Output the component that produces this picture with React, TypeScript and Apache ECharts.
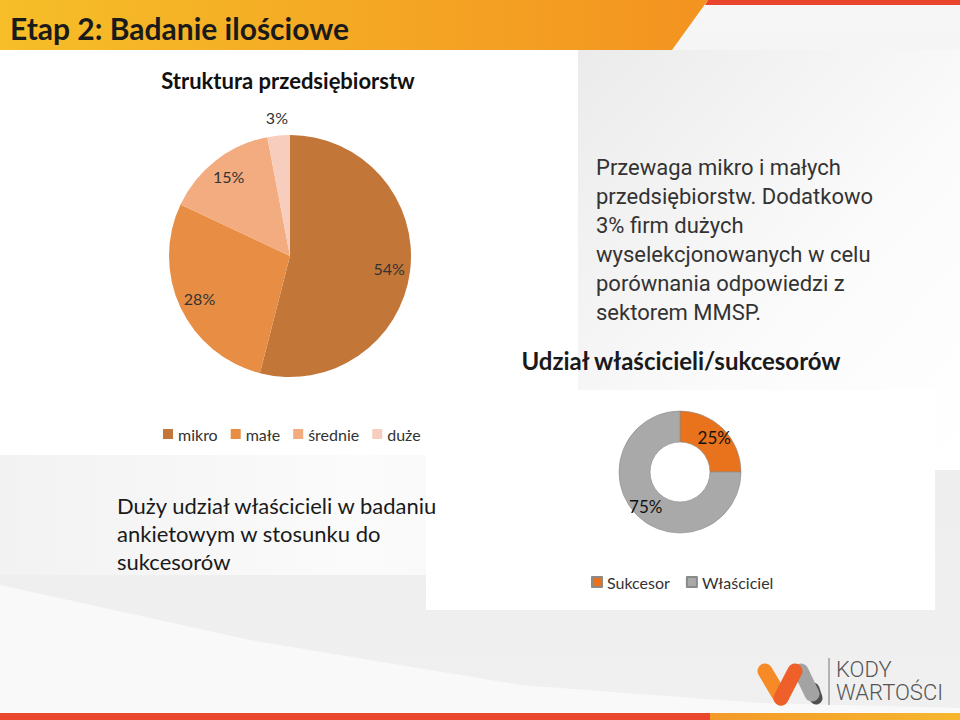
import React, { useEffect, useRef } from "react";
import * as echarts from "echarts";

const pieCategories = ["mikro", "małe", "średnie", "duże"];
const pieValues = [54, 28, 15, 3];
const pieColors = ["#C27638", "#E88D44", "#F3AC7F", "#F7CDBD"];

const donutCategories = ["Sukcesor", "Właściciel"];
const donutValues = [25, 75];
const donutColors = ["#E8731C", "#A9A9A9"];

const titleText = "Etap 2: Badanie ilościowe";
const pieTitle = "Struktura przedsiębiorstw";
const donutTitle = "Udział właścicieli/sukcesorów";
const rightText = [
  "Przewaga mikro i małych",
  "przedsiębiorstw. Dodatkowo",
  "3% firm dużych",
  "wyselekcjonowanych w celu",
  "porównania odpowiedzi z",
  "sektorem MMSP.",
];
const bottomText = [
  "Duży udział właścicieli w badaniu",
  "ankietowym w stosunku do",
  "sukcesorów",
];
const logoText = ["KODY", "WARTOŚCI"];

const CAL = "Lato, 'Open Sans', sans-serif";

export default function App() {
  const ref = useRef<HTMLDivElement>(null);
  useEffect(() => {
    document.body.style.margin = "0";
    const chart = echarts.init(ref.current!, null, { renderer: "svg" });
    const pieData = pieCategories.map((n, i) => ({
      name: n,
      value: pieValues[i],
      itemStyle: { color: pieColors[i] },
    }));
    const donutData = donutCategories.map((n, i) => ({
      name: n,
      value: donutValues[i],
      itemStyle: { color: donutColors[i] },
    }));
    const pct = (p: any) => Math.round(p.percent) + "%";

    const graphics: any[] = [
      // base background
      {
        type: "rect", z: -10, shape: { x: 0, y: 0, width: 960, height: 720 },
        style: {
          fill: new echarts.graphic.LinearGradient(0, 0, 0, 1, [
            { offset: 0, color: "#f6f6f6" },
            { offset: 0.65, color: "#eeeeee" },
            { offset: 1, color: "#f0f0f0" },
          ]),
        },
      },
      // lighter lower swoosh
      {
        type: "polygon", z: -9, smooth: 0.35,
        shape: { points: [[0, 585], [250, 640], [520, 685], [760, 703], [960, 708], [960, 720], [0, 720]] },
        style: { fill: "#f9f9f9" },
      },
      // right top gradient
      {
        type: "rect", z: -9, shape: { x: 578, y: 50, width: 382, height: 420 },
        style: {
          fill: new echarts.graphic.LinearGradient(0, 0, 1, 1, [
            { offset: 0, color: "#ebebeb" },
            { offset: 0.6, color: "#fbfbfb" },
            { offset: 1, color: "#ffffff" },
          ]),
        },
      },
      // soft fade under the left panel
      {
        type: "rect", z: -9, shape: { x: 0, y: 455, width: 600, height: 120 },
        style: {
          fill: new echarts.graphic.LinearGradient(0, 0, 1, 0, [
            { offset: 0, color: "#f2f2f2" },
            { offset: 0.6, color: "#fbfbfb" },
            { offset: 1, color: "#f5f5f5" },
          ]),
        },
      },
      // left white panel
      {
        type: "rect", z: -8, shape: { x: 0, y: 50, width: 578, height: 405 },
        style: { fill: "#ffffff" },
      },
      // donut white panel
      {
        type: "rect", z: -8, shape: { x: 426, y: 390, width: 509, height: 220 },
        style: { fill: "#ffffff" },
      },
      // header orange
      {
        type: "polygon", z: -5,
        shape: { points: [[0, 0], [708, 0], [672, 50], [0, 50]] },
        style: {
          fill: new echarts.graphic.LinearGradient(0, 0, 1, 0, [
            { offset: 0, color: "#F6BE28" },
            { offset: 1, color: "#F39320" },
          ]),
        },
      },
      // header red stripe
      {
        type: "polygon", z: -5,
        shape: { points: [[708, 0], [960, 0], [960, 5], [705, 5]] },
        style: { fill: "#E8452C" },
      },
      // bottom stripe
      {
        type: "rect", z: -5, shape: { x: 0, y: 713, width: 710, height: 7 },
        style: { fill: "#E8472C" },
      },
      {
        type: "rect", z: -5, shape: { x: 710, y: 713, width: 250, height: 7 },
        style: {
          fill: new echarts.graphic.LinearGradient(0, 0, 1, 0, [
            { offset: 0, color: "#F39A2A" },
            { offset: 1, color: "#F6B62E" },
          ]),
        },
      },
      // title
      {
        type: "text", x: 10, y: 28,
        style: { text: titleText, font: "bold 30px " + CAL, fill: "#1a1a1a", verticalAlign: "middle" },
      },
      {
        type: "text", x: 288, y: 80,
        style: { text: pieTitle, font: "bold 22px " + CAL, fill: "#111", align: "center", verticalAlign: "middle" },
      },
      {
        type: "text", x: 681, y: 360,
        style: { text: donutTitle, font: "bold 24px " + CAL, fill: "#1a1a1a", align: "center", verticalAlign: "middle" },
      },
      {
        type: "text", x: 596, y: 153,
        style: { text: rightText.join("\n"), font: "22px Roboto, sans-serif", lineHeight: 29, fill: "#333" },
      },
      {
        type: "text", x: 117, y: 491,
        style: { text: bottomText.join("\n"), font: "22px " + CAL, lineHeight: 28, fill: "#1a1a1a" },
      },
      // logo
      {
        type: "line", shape: { x1: 813, y1: 689, x2: 816, y2: 698 },
        style: { stroke: "#505050", lineWidth: 13, lineCap: "round" },
      },
      {
        type: "line", shape: { x1: 801, y1: 671, x2: 812, y2: 694 },
        style: { stroke: "#a3a3a3", lineWidth: 15, lineCap: "round" },
      },
      {
        type: "line", shape: { x1: 765, y1: 671, x2: 781, y2: 698 },
        style: { stroke: "#F58A26", lineWidth: 15, lineCap: "round" },
      },
      {
        type: "line", shape: { x1: 781, y1: 698, x2: 795, y2: 671 },
        style: { stroke: "#EE5F2A", lineWidth: 15, lineCap: "round" },
      },
      {
        type: "line", shape: { x1: 829, y1: 658, x2: 829, y2: 705 },
        style: { stroke: "#777", lineWidth: 1 },
      },
      {
        type: "text", x: 836, y: 658,
        style: { text: logoText.join("\n"), font: "300 22px Roboto, sans-serif", lineHeight: 23, fill: "#555" },
      },
    ];

    chart.setOption({
      animation: false,
      graphic: graphics,
      legend: [
        {
          left: 163, top: 426, padding: 0, itemWidth: 10, itemHeight: 10, itemGap: 13,
          icon: "rect",
          data: pieCategories.map((n, i) => ({ name: n, itemStyle: { color: pieColors[i] } })),
          textStyle: { fontFamily: CAL, fontSize: 16, color: "#333" },
        },
        {
          left: 591, top: 574, padding: 0, itemWidth: 10, itemHeight: 10, itemGap: 16,
          icon: "rect",
          data: donutCategories.map((n, i) => ({ name: n, itemStyle: { color: donutColors[i] } })),
          textStyle: { fontFamily: CAL, fontSize: 16, color: "#333" },
        },
      ],
      series: [
        {
          type: "pie", center: [290, 256], radius: [0, 121], startAngle: 90, clockwise: true,
          silent: true, data: pieData, label: { show: false }, labelLine: { show: false },
          itemStyle: { borderWidth: 0 },
        },
        {
          type: "pie", center: [290, 256], radius: [0, 194], startAngle: 90, clockwise: true,
          silent: true, z: 3,
          data: pieData.map((d, i) => ({
            name: d.name, value: d.value, itemStyle: { color: "rgba(0,0,0,0)" },
            label: { show: i < 3 },
          })),
          label: { show: true, position: "inside", formatter: pct, fontFamily: CAL, fontSize: 16, color: "#333" },
          labelLine: { show: false },
        },
        {
          type: "pie", center: [290, 256], radius: [0, 272], startAngle: 90, clockwise: true,
          silent: true, z: 3,
          data: pieData.map((d, i) => ({
            name: d.name, value: d.value, itemStyle: { color: "rgba(0,0,0,0)" },
            label: { show: i === 3 },
          })),
          label: { show: true, position: "inside", formatter: pct, fontFamily: CAL, fontSize: 16, color: "#333" },
          labelLine: { show: false },
        },
        {
          type: "pie", center: [680, 472], radius: [30, 61], startAngle: 90, clockwise: true,
          silent: true, data: donutData,
          itemStyle: { borderColor: "#8a8a8a", borderWidth: 0.6 },
          label: { show: true, position: "inside", formatter: pct, fontFamily: CAL, fontSize: 17, color: "#111" },
          labelLine: { show: false },
        },
      ],
    });
    return () => chart.dispose();
  }, []);
  return <div ref={ref} style={{ width: 960, height: 720 }} />;
}
